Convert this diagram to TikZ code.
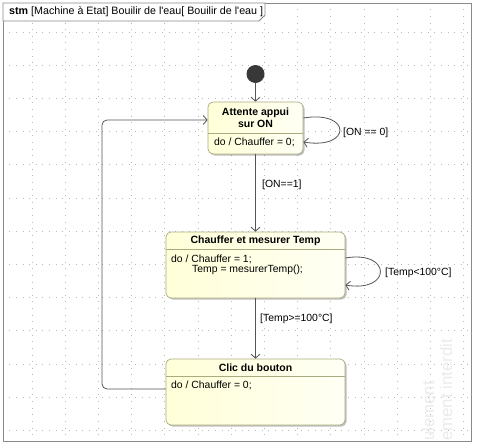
\documentclass[tikz,border=0pt]{standalone}
\usepackage{fontspec}
\setmainfont{Liberation Sans}
\usetikzlibrary{arrows.meta,shadows}
\definecolor{etatfond}{HTML}{FFFFD8}
\definecolor{etatclair}{HTML}{FFFFF4}
\definecolor{etatbord}{HTML}{ABAB80}
\definecolor{fleche}{HTML}{555555}
\definecolor{cadre}{HTML}{8A8A8A}

\begin{document}
\begin{tikzpicture}[x=1pt,y=-1pt]
    \tikzset{
      grille/.style={gray!55, line width=0.7pt, dash pattern=on 0.7pt off 5.94pt, dash phase=0.35pt},
      etat/.style={draw=etatbord, line width=0.7pt, rounded corners=5pt, left color=etatfond, right color=etatclair,
        drop shadow={shadow xshift=1.5pt, shadow yshift=-1.5pt, opacity=0.25, fill=black}, inner sep=0pt},
      titre/.style={font=\bfseries\fontsize{10.5}{12}\selectfont, align=center, inner sep=0pt},
      corps/.style={font=\fontsize{10.4}{12}\selectfont, anchor=west, inner sep=0pt},
      garde/.style={font=\fontsize{10.4}{12}\selectfont, anchor=west, inner sep=0pt},
      trans/.style={draw=fleche, line width=0.8pt, -{Straight Barb[length=4pt,width=9pt]}}
    }
    \useasboundingbox (0,0) rectangle (478,447);
    \fill[white] (0,0) rectangle (478,447);

    % grille de fond
    \foreach \k in {0,...,13} \draw[grille] (32+33.2*\k,3) -- (32+33.2*\k,441);
    \foreach \k in {0,...,12} \draw[grille] (3,32+33.2*\k) -- (471,32+33.2*\k);

    % filigrane
    \begin{scope}
      \clip (3,3) rectangle (471,441);
      \node[rotate=90, anchor=west, inner sep=0pt, text=gray!16, font=\fontsize{16.8}{17}\selectfont] (fil1) at (428,441) {ulement};
      \node[rotate=90, anchor=west, inner sep=0pt, text=gray!16, font=\fontsize{16.8}{17}\selectfont] (fil2) at (446,441) {ement interdit};
    \end{scope}

    % cadre et onglet
    \draw[cadre, line width=0.8pt] (3,3) rectangle (471,441);
    \draw[cadre, line width=0.8pt, fill=white] (3,3) -- (265,3) -- (265,15) -- (259,21) -- (3,21) -- cycle;
    \node[garde, font=\fontsize{10.7}{12}\selectfont] (onglet) at (9,12) {\textbf{stm} [Machine à Etat] Bouilir de l\textquotesingle eau[ Bouilir de l\textquotesingle eau ]};

    % etat initial
    \node[circle, fill=black!78, minimum size=18pt, inner sep=0pt] (init) at (255.5,74) {};

    % Attente appui sur ON
    \node[etat, minimum width=95pt, minimum height=52pt] (attente) at (255.5,128) {};
    \node[titre] (attenteT) at (255.5,118) {Attente appui\\sur ON};
    \draw[etatbord, line width=0.7pt] (attente.west |- 0,133) -- (attente.east |- 0,133);
    \node[corps] (attenteC) at (214,142) {do / Chauffer = 0;};

    % Chauffer et mesurer Temp
    \node[etat, minimum width=179pt, minimum height=66pt] (chauffer) at (255.5,265) {};
    \node[titre] (chaufferT) at (255.5,241) {Chauffer et mesurer Temp};
    \draw[etatbord, line width=0.7pt] (chauffer.west |- 0,249) -- (chauffer.east |- 0,249);
    \node[corps] (chaufferC1) at (171,259) {do / Chauffer = 1;};
    \node[corps] (chaufferC2) at (192,270) {Temp = mesurerTemp();};

    % Clic du bouton
    \node[etat, minimum width=179pt, minimum height=66pt] (clic) at (255.5,392) {};
    \node[titre] (clicT) at (255.5,368) {Clic du bouton};
    \draw[etatbord, line width=0.7pt] (clic.west |- 0,376) -- (clic.east |- 0,376);
    \node[corps] (clicC) at (171,385) {do / Chauffer = 0;};

    % transitions
    \draw[trans] (init) -- (attente);
    \draw[trans] (attente.east |- 0,118) .. controls (352,110) and (352,150) .. (attente.east |- 0,142);
    \node[garde] (g1) at (343,133) {[ON == 0]};
    \draw[trans] (attente) -- (chauffer);
    \node[garde] (g2) at (262,185) {[ON==1]};
    \draw[trans] (chauffer.east |- 0,258) .. controls (392,250) and (392,293) .. (chauffer.east |- 0,285);
    \node[garde] (g3) at (385,273) {[Temp<100°C]};
    \draw[trans] (chauffer) -- (clic);
    \node[garde] (g4) at (260,319) {[Temp>=100°C]};
    \coordinate (retour) at (102,389);
    \draw[trans, rounded corners=5pt] (clic.west |- retour) -- (retour) |- (attente.west |- 0,120);
\end{tikzpicture}
\end{document}
